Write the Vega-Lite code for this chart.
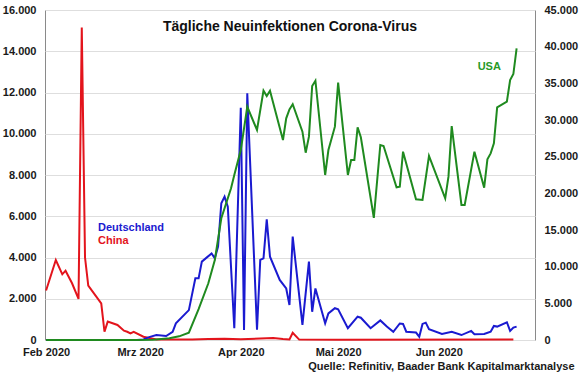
{
  "$schema": "https://vega.github.io/schema/vega-lite/v6.json",
  "width": 490,
  "height": 330,
  "autosize": {"type": "none"},
  "padding": {"left": 45, "top": 10, "right": 45, "bottom": 35},
  "background": "white",
  "config": {
    "font": "Liberation Sans",
    "view": {"stroke": "#8a8a8a", "strokeWidth": 1}
  },
  "title": {
    "text": "Tägliche Neuinfektionen Corona-Virus",
    "anchor": "middle",
    "frame": "group",
    "orient": "top",
    "offset": -20,
    "dy": 21,
    "baseline": "alphabetic",
    "fontSize": 14,
    "fontWeight": "bold",
    "font": "Liberation Sans",
    "color": "#111111"
  },
  "datasets": {
    "primary": [
      {"date": "2020-02-01", "series": "China", "value": 2400},
      {"date": "2020-02-04", "series": "China", "value": 3880},
      {"date": "2020-02-06", "series": "China", "value": 3185},
      {"date": "2020-02-07", "series": "China", "value": 3360},
      {"date": "2020-02-09", "series": "China", "value": 2750},
      {"date": "2020-02-11", "series": "China", "value": 1990},
      {"date": "2020-02-12", "series": "China", "value": 15150},
      {"date": "2020-02-13", "series": "China", "value": 4000},
      {"date": "2020-02-14", "series": "China", "value": 2640},
      {"date": "2020-02-18", "series": "China", "value": 1780},
      {"date": "2020-02-19", "series": "China", "value": 400},
      {"date": "2020-02-20", "series": "China", "value": 890},
      {"date": "2020-02-23", "series": "China", "value": 730},
      {"date": "2020-02-25", "series": "China", "value": 450},
      {"date": "2020-02-26", "series": "China", "value": 400},
      {"date": "2020-02-27", "series": "China", "value": 320},
      {"date": "2020-02-28", "series": "China", "value": 400},
      {"date": "2020-03-02", "series": "China", "value": 160},
      {"date": "2020-03-06", "series": "China", "value": 30},
      {"date": "2020-03-17", "series": "China", "value": 20},
      {"date": "2020-03-22", "series": "China", "value": 50},
      {"date": "2020-03-27", "series": "China", "value": 60},
      {"date": "2020-04-01", "series": "China", "value": 40},
      {"date": "2020-04-07", "series": "China", "value": 70},
      {"date": "2020-04-11", "series": "China", "value": 100},
      {"date": "2020-04-14", "series": "China", "value": 50},
      {"date": "2020-04-16", "series": "China", "value": 30},
      {"date": "2020-04-17", "series": "China", "value": 350},
      {"date": "2020-04-19", "series": "China", "value": 20},
      {"date": "2020-05-01", "series": "China", "value": 10},
      {"date": "2020-06-24", "series": "China", "value": 20},
      {"date": "2020-02-01", "series": "Deutschland", "value": 0},
      {"date": "2020-02-29", "series": "Deutschland", "value": 0},
      {"date": "2020-03-02", "series": "Deutschland", "value": 30},
      {"date": "2020-03-04", "series": "Deutschland", "value": 150},
      {"date": "2020-03-06", "series": "Deutschland", "value": 240},
      {"date": "2020-03-09", "series": "Deutschland", "value": 190},
      {"date": "2020-03-11", "series": "Deutschland", "value": 400},
      {"date": "2020-03-12", "series": "Deutschland", "value": 810},
      {"date": "2020-03-16", "series": "Deutschland", "value": 1450},
      {"date": "2020-03-18", "series": "Deutschland", "value": 2990},
      {"date": "2020-03-19", "series": "Deutschland", "value": 2990},
      {"date": "2020-03-20", "series": "Deutschland", "value": 3800},
      {"date": "2020-03-23", "series": "Deutschland", "value": 4200},
      {"date": "2020-03-24", "series": "Deutschland", "value": 3960},
      {"date": "2020-03-25", "series": "Deutschland", "value": 4530},
      {"date": "2020-03-26", "series": "Deutschland", "value": 6630},
      {"date": "2020-03-27", "series": "Deutschland", "value": 6950},
      {"date": "2020-03-28", "series": "Deutschland", "value": 6460},
      {"date": "2020-03-30", "series": "Deutschland", "value": 570},
      {"date": "2020-04-01", "series": "Deutschland", "value": 11260},
      {"date": "2020-04-02", "series": "Deutschland", "value": 490},
      {"date": "2020-04-03", "series": "Deutschland", "value": 11960},
      {"date": "2020-04-06", "series": "Deutschland", "value": 500},
      {"date": "2020-04-07", "series": "Deutschland", "value": 3880},
      {"date": "2020-04-08", "series": "Deutschland", "value": 3960},
      {"date": "2020-04-09", "series": "Deutschland", "value": 5850},
      {"date": "2020-04-10", "series": "Deutschland", "value": 4040},
      {"date": "2020-04-13", "series": "Deutschland", "value": 2910},
      {"date": "2020-04-15", "series": "Deutschland", "value": 2500},
      {"date": "2020-04-16", "series": "Deutschland", "value": 1700},
      {"date": "2020-04-17", "series": "Deutschland", "value": 5010},
      {"date": "2020-04-20", "series": "Deutschland", "value": 730},
      {"date": "2020-04-22", "series": "Deutschland", "value": 3800},
      {"date": "2020-04-23", "series": "Deutschland", "value": 1370},
      {"date": "2020-04-24", "series": "Deutschland", "value": 2500},
      {"date": "2020-04-27", "series": "Deutschland", "value": 810},
      {"date": "2020-04-28", "series": "Deutschland", "value": 1290},
      {"date": "2020-04-30", "series": "Deutschland", "value": 1540},
      {"date": "2020-05-01", "series": "Deutschland", "value": 1490},
      {"date": "2020-05-04", "series": "Deutschland", "value": 570},
      {"date": "2020-05-07", "series": "Deutschland", "value": 1130},
      {"date": "2020-05-08", "series": "Deutschland", "value": 1080},
      {"date": "2020-05-11", "series": "Deutschland", "value": 570},
      {"date": "2020-05-14", "series": "Deutschland", "value": 950},
      {"date": "2020-05-16", "series": "Deutschland", "value": 650},
      {"date": "2020-05-18", "series": "Deutschland", "value": 400},
      {"date": "2020-05-20", "series": "Deutschland", "value": 800},
      {"date": "2020-05-21", "series": "Deutschland", "value": 780},
      {"date": "2020-05-22", "series": "Deutschland", "value": 400},
      {"date": "2020-05-25", "series": "Deutschland", "value": 360},
      {"date": "2020-05-26", "series": "Deutschland", "value": 160},
      {"date": "2020-05-27", "series": "Deutschland", "value": 780},
      {"date": "2020-05-28", "series": "Deutschland", "value": 840},
      {"date": "2020-05-29", "series": "Deutschland", "value": 520},
      {"date": "2020-06-02", "series": "Deutschland", "value": 290},
      {"date": "2020-06-05", "series": "Deutschland", "value": 400},
      {"date": "2020-06-08", "series": "Deutschland", "value": 240},
      {"date": "2020-06-11", "series": "Deutschland", "value": 440},
      {"date": "2020-06-12", "series": "Deutschland", "value": 280},
      {"date": "2020-06-15", "series": "Deutschland", "value": 290},
      {"date": "2020-06-17", "series": "Deutschland", "value": 400},
      {"date": "2020-06-18", "series": "Deutschland", "value": 680},
      {"date": "2020-06-19", "series": "Deutschland", "value": 650},
      {"date": "2020-06-22", "series": "Deutschland", "value": 860},
      {"date": "2020-06-23", "series": "Deutschland", "value": 440},
      {"date": "2020-06-24", "series": "Deutschland", "value": 600},
      {"date": "2020-06-25", "series": "Deutschland", "value": 650}
    ],
    "usa": [
      {"date": "2020-02-01", "series": "USA", "value": 0},
      {"date": "2020-02-29", "series": "USA", "value": 0},
      {"date": "2020-03-05", "series": "USA", "value": 50},
      {"date": "2020-03-10", "series": "USA", "value": 230},
      {"date": "2020-03-13", "series": "USA", "value": 500},
      {"date": "2020-03-16", "series": "USA", "value": 1000},
      {"date": "2020-03-19", "series": "USA", "value": 4200},
      {"date": "2020-03-22", "series": "USA", "value": 7730},
      {"date": "2020-03-24", "series": "USA", "value": 10900},
      {"date": "2020-03-26", "series": "USA", "value": 16600},
      {"date": "2020-03-29", "series": "USA", "value": 20700},
      {"date": "2020-03-30", "series": "USA", "value": 22500},
      {"date": "2020-04-01", "series": "USA", "value": 25900},
      {"date": "2020-04-03", "series": "USA", "value": 31800},
      {"date": "2020-04-06", "series": "USA", "value": 28640},
      {"date": "2020-04-08", "series": "USA", "value": 34000},
      {"date": "2020-04-09", "series": "USA", "value": 33270},
      {"date": "2020-04-10", "series": "USA", "value": 34000},
      {"date": "2020-04-14", "series": "USA", "value": 27270},
      {"date": "2020-04-15", "series": "USA", "value": 30230},
      {"date": "2020-04-16", "series": "USA", "value": 31450},
      {"date": "2020-04-17", "series": "USA", "value": 32150},
      {"date": "2020-04-20", "series": "USA", "value": 28410},
      {"date": "2020-04-21", "series": "USA", "value": 25540},
      {"date": "2020-04-22", "series": "USA", "value": 27730},
      {"date": "2020-04-23", "series": "USA", "value": 34640},
      {"date": "2020-04-24", "series": "USA", "value": 35360},
      {"date": "2020-04-27", "series": "USA", "value": 22500},
      {"date": "2020-04-28", "series": "USA", "value": 25900},
      {"date": "2020-04-30", "series": "USA", "value": 29090},
      {"date": "2020-05-01", "series": "USA", "value": 35090},
      {"date": "2020-05-04", "series": "USA", "value": 22500},
      {"date": "2020-05-05", "series": "USA", "value": 24550},
      {"date": "2020-05-06", "series": "USA", "value": 24550},
      {"date": "2020-05-07", "series": "USA", "value": 29000},
      {"date": "2020-05-08", "series": "USA", "value": 27640},
      {"date": "2020-05-12", "series": "USA", "value": 16650},
      {"date": "2020-05-14", "series": "USA", "value": 26590},
      {"date": "2020-05-15", "series": "USA", "value": 26450},
      {"date": "2020-05-19", "series": "USA", "value": 20820},
      {"date": "2020-05-20", "series": "USA", "value": 20910},
      {"date": "2020-05-21", "series": "USA", "value": 25680},
      {"date": "2020-05-25", "series": "USA", "value": 19180},
      {"date": "2020-05-27", "series": "USA", "value": 19090},
      {"date": "2020-05-29", "series": "USA", "value": 25090},
      {"date": "2020-06-03", "series": "USA", "value": 19320},
      {"date": "2020-06-04", "series": "USA", "value": 22270},
      {"date": "2020-06-05", "series": "USA", "value": 29180},
      {"date": "2020-06-08", "series": "USA", "value": 18410},
      {"date": "2020-06-09", "series": "USA", "value": 18410},
      {"date": "2020-06-12", "series": "USA", "value": 25680},
      {"date": "2020-06-15", "series": "USA", "value": 20770},
      {"date": "2020-06-16", "series": "USA", "value": 24640},
      {"date": "2020-06-17", "series": "USA", "value": 25450},
      {"date": "2020-06-18", "series": "USA", "value": 26820},
      {"date": "2020-06-19", "series": "USA", "value": 31730},
      {"date": "2020-06-22", "series": "USA", "value": 32500},
      {"date": "2020-06-23", "series": "USA", "value": 35450},
      {"date": "2020-06-24", "series": "USA", "value": 36270},
      {"date": "2020-06-25", "series": "USA", "value": 39780}
    ],
    "primaryLabels": [
      {"date": "2020-02-17", "series": "Deutschland", "value": 5300},
      {"date": "2020-02-17", "series": "China", "value": 4650}
    ],
    "usaLabels": [
      {"date": "2020-06-13", "series": "USA", "value": 36800}
    ]
  },
  "encoding": {
    "x": {
      "field": "date",
      "type": "temporal",
      "scale": {
        "type": "utc",
        "domain": [
          {"year": 2020, "month": 1, "date": 31, "hours": 16, "utc": true},
          {"year": 2020, "month": 6, "date": 30, "hours": 16, "utc": true}
        ]
      },
      "axis": {
        "values": [
          {"year": 2020, "month": 2, "date": 1, "utc": true},
          {"year": 2020, "month": 3, "date": 1, "utc": true},
          {"year": 2020, "month": 4, "date": 1, "utc": true},
          {"year": 2020, "month": 5, "date": 1, "utc": true},
          {"year": 2020, "month": 6, "date": 1, "utc": true}
        ],
        "labelExpr": "['Jan','Feb','Mrz','Apr','Mai','Jun','Jul'][utcmonth(datum.value)] + ' ' + utcyear(datum.value)",
        "labelFlush": false,
        "labelOverlap": false,
        "grid": false,
        "ticks": false,
        "domain": false,
        "labelPadding": 6,
        "labelFontSize": 11,
        "labelFontWeight": "bold",
        "labelColor": "#1a1a1a",
        "labelFont": "Liberation Sans",
        "title": "Quelle: Refinitiv, Baader Bank Kapitalmarktanalyse",
        "titleX": 529,
        "titleY": 29,
        "titleAlign": "right",
        "titleAnchor": "end",
        "titleBaseline": "alphabetic",
        "titleFontSize": 11,
        "titleFontWeight": "bold",
        "titleColor": "#1a1a1a",
        "titleFont": "Liberation Sans"
      }
    }
  },
  "layer": [
    {
      "encoding": {
        "y": {
          "field": "value",
          "type": "quantitative",
          "scale": {"domain": [0, 16000], "nice": false},
          "axis": {
            "orient": "left",
            "values": [0, 2000, 4000, 6000, 8000, 10000, 12000, 14000, 16000],
            "labelExpr": "replace(format(datum.value, ','), ',', '.')",
            "grid": true,
            "gridColor": "#dedede",
            "gridWidth": 1,
            "ticks": false,
            "domain": false,
            "labelPadding": 9,
            "labelFontSize": 11,
            "labelFontWeight": "bold",
            "labelColor": "#1a1a1a",
            "labelFont": "Liberation Sans",
            "title": null
          }
        },
        "color": {
          "field": "series",
          "type": "nominal",
          "scale": {"domain": ["Deutschland", "China"], "range": ["#1a1ad0", "#e3141c"]},
          "legend": null
        }
      },
      "layer": [
        {
          "data": {"name": "primary"},
          "mark": {"type": "line", "strokeWidth": 2, "interpolate": "linear"}
        },
        {
          "data": {"name": "primaryLabels"},
          "mark": {"type": "text", "align": "left", "baseline": "alphabetic", "fontSize": 11, "fontWeight": "bold", "font": "Liberation Sans"},
          "encoding": {"text": {"field": "series"}}
        }
      ]
    },
    {
      "encoding": {
        "y": {
          "field": "value",
          "type": "quantitative",
          "scale": {"domain": [0, 45000], "nice": false},
          "axis": {
            "orient": "right",
            "values": [0, 5000, 10000, 15000, 20000, 25000, 30000, 35000, 40000, 45000],
            "labelExpr": "replace(format(datum.value, ','), ',', '.')",
            "grid": false,
            "ticks": false,
            "domain": false,
            "labelPadding": 9,
            "labelFontSize": 11,
            "labelFontWeight": "bold",
            "labelColor": "#1a1a1a",
            "labelFont": "Liberation Sans",
            "title": null
          }
        }
      },
      "layer": [
        {
          "data": {"name": "usa"},
          "mark": {"type": "line", "strokeWidth": 2, "color": "#1f8a1f"}
        },
        {
          "data": {"name": "usaLabels"},
          "mark": {"type": "text", "align": "left", "baseline": "alphabetic", "fontSize": 11, "fontWeight": "bold", "font": "Liberation Sans", "color": "#279a27"},
          "encoding": {"text": {"field": "series"}}
        }
      ]
    }
  ],
  "resolve": {"scale": {"y": "independent"}, "axis": {"y": "independent"}}
}
